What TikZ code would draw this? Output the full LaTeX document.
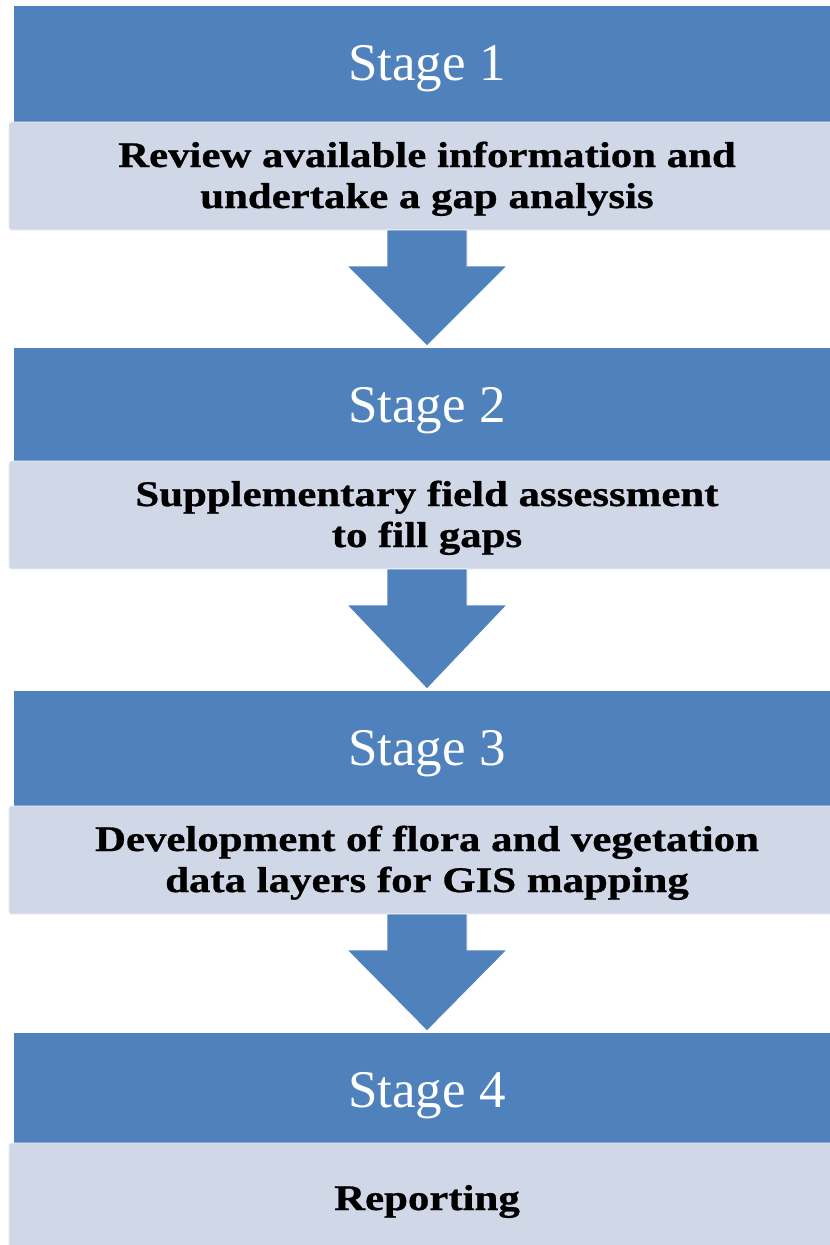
\documentclass[tikz,border=0pt]{standalone}
\usepackage{fontspec}
\setmainfont{Liberation Serif}
\newfontfamily\boxfont[FakeStretch=1.19,FakeBold=0.8]{Liberation Serif}
\usetikzlibrary{calc}
\definecolor{stageblue}{HTML}{4F81BD}
\definecolor{stepgrey}{HTML}{D0D8E8}
\begin{document}
\begin{tikzpicture}[x=1pt,y=-1pt,
  stagebox/.style={rectangle, fill=stageblue, draw=none, inner sep=0pt, outer sep=0pt, anchor=north west},
  greybox/.style={rectangle, fill=stepgrey, draw=white!55!stepgrey, line width=0.8pt, rounded corners=2.5pt, inner sep=0pt, outer sep=0pt, anchor=north west},
  stagelabel/.style={text=white, font=\fontsize{53}{60}\selectfont, inner sep=0pt, anchor=base},
  steplabel/.style={text=black, font=\boxfont\bfseries\fontsize{36}{41}\selectfont, inner sep=0pt, anchor=base},
  arrowshape/.style={fill=stageblue, draw=white, line width=0.9pt, line join=miter}
]
\useasboundingbox (0,0) rectangle (830,1245);
\clip (0,0) rectangle (830,1245);
\fill[white] (0,0) rectangle (830,1245);
\coordinate (cx) at (427,0);

% stage boxes
\node[stagebox, minimum width=830pt, minimum height=116pt] (b1) at (14,6) {};
\node[stagebox, minimum width=830pt, minimum height=113pt] (b2) at (14,348) {};
\node[stagebox, minimum width=830pt, minimum height=115pt] (b3) at (14,691) {};
\node[stagebox, minimum width=830pt, minimum height=110pt] (b4) at (14,1033) {};

% description boxes
\node[greybox, minimum width=836pt, minimum height=108pt] (g1) at (9,122) {};
\node[greybox, minimum width=836pt, minimum height=108pt] (g2) at (9,461) {};
\node[greybox, minimum width=836pt, minimum height=108pt] (g3) at (9,806) {};
\node[greybox, minimum width=836pt, minimum height=112pt] (g4) at (9,1143) {};

% arrows
\foreach \a/\b in {g1/b2, g2/b3, g3/b4}{
  \path[arrowshape] let \p1=(\a.south -| cx), \p2=(\b.north -| cx) in
    (\x1-40,\y1) -- (\x1-40,\y1-36) -- (\x1-80,\y1-36) -- (\x1,\y2+2)
    -- (\x1+80,\y1-36) -- (\x1+40,\y1-36) -- (\x1+40,\y1) -- cycle;
}

% stage labels
\node[stagelabel] (s1) at (427,80) {Stage 1};
\node[stagelabel] (s2) at (427,422) {Stage 2};
\node[stagelabel] (s3) at (427,765) {Stage 3};
\node[stagelabel] (s4) at (427,1107) {Stage 4};

% step labels
\node[steplabel] (l1a) at (427,167) {Review available information and};
\node[steplabel] (l1b) at (427,208) {undertake a gap analysis};
\node[steplabel] (l2a) at (427,506) {Supplementary field assessment};
\node[steplabel] (l2b) at (427,547) {to fill gaps};
\node[steplabel] (l3a) at (427,851) {Development of flora and vegetation};
\node[steplabel] (l3b) at (427,892) {data layers for GIS mapping};
\node[steplabel] (l4) at (427,1210) {Reporting};
\end{tikzpicture}
\end{document}
